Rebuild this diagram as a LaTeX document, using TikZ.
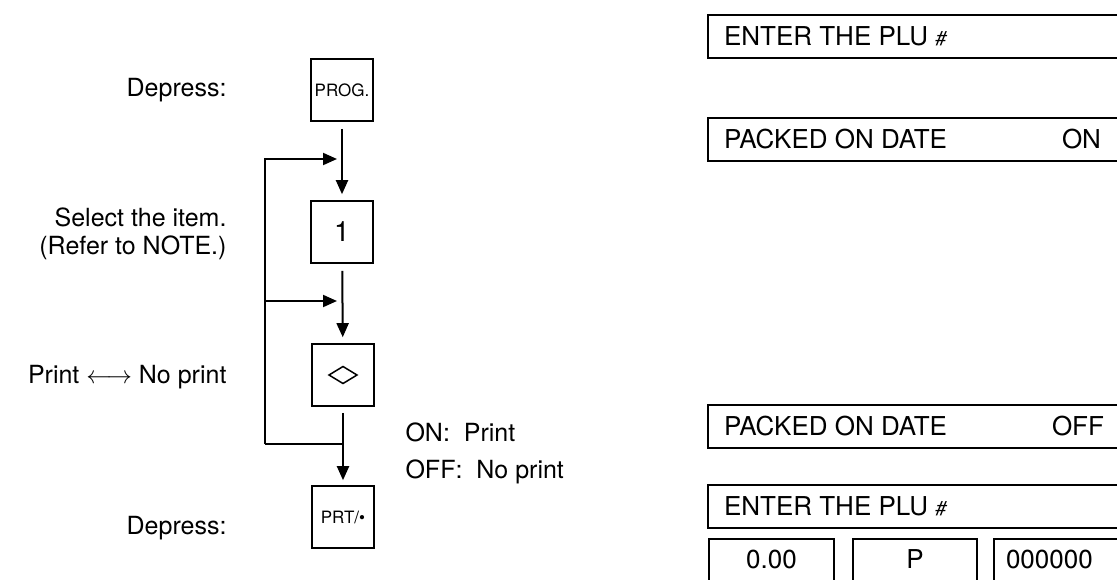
\documentclass[tikz,border=0pt]{standalone}
\usepackage{fontspec}
\setmainfont{TeX Gyre Heros}
\usetikzlibrary{arrows.meta}

\tikzset{
	key/.style={draw, line width=1.6pt, minimum size=62pt, inner sep=0pt},
	keytxt/.style={font=\fontsize{17}{20}\selectfont},
	flow/.style={line width=2pt, -{Triangle[length=14pt,width=12pt]}},
	wire/.style={line width=2pt},
	disp/.style={draw, line width=2pt, anchor=north west, minimum height=43pt, inner xsep=16pt, font=\fontsize{26}{28}\selectfont},
	cell/.style={draw, line width=2pt, anchor=north west, minimum width=125pt, text height=18pt, text depth=40pt, inner ysep=11pt, font=\fontsize{26}{28}\selectfont},
	lbl/.style={anchor=east, align=right}
}
\newcommand{\displine}[1]{\makebox[411pt][l]{#1}}

\begin{document}
\begin{tikzpicture}[x=1pt, y=-1pt, font=\fontsize{25}{28}\selectfont]
	\useasboundingbox (0,0) rectangle (1117,579);
	\clip (0,0) rectangle (1117,579);
	
	% --- keys ---
	\node[key, keytxt] (prog) at (342,90) {PROG.};
	\node[key, font=\fontsize{28}{30}\selectfont] (one) at (342,232) {1};
	\node[key] (dia) at (343,375) {};
	\draw[line width=1.5pt] (dia.center) +(-14,0) -- +(0,-8.5) -- +(14,0) -- +(0,8.5) -- cycle;
	\node[key, keytxt] (prt) at (343,517) {PRT/\textbullet};
	
	% --- left labels ---
	\node[lbl] (dep1) at (230,90) {Depress:};
	\node[lbl] (sel) at (230,234) {Select the item.\\(Refer to NOTE.)};
	\node[lbl] (pn) at (230,377) {Print $\longleftrightarrow$ No print};
	\node[lbl] (dep2) at (230,528) {Depress:};
	\node[anchor=west, align=left, font=\fontsize{25}{37}\selectfont] (onoff) at (402,453) {ON:\ \ Print\\OFF:\ \ No print};
	
	% --- flow ---
	\coordinate (jn) at (343,444);
	\coordinate (lp) at (265,444);
	\coordinate (t1) at (343,159);
	\coordinate (t2) at (343,301);
	\draw[flow, shorten <=7pt, shorten >=6pt] (prog) -- (one);
	\draw[flow, shorten <=7pt, shorten >=6pt] (one) -- (dia);
	\draw[flow, shorten <=6pt, shorten >=5pt] (dia) -- (prt);
	\draw[wire] (jn) -- (lp);
	\draw[flow, shorten >=6pt] (lp) |- (t1);
	\draw[flow, shorten >=6pt] (lp |- t2) -- (t2);
	
	% --- display ---
	\node[disp] (d1) at (707,14) {\displine{ENTER THE PLU {\fontsize{20}{20}\selectfont\itshape\#}}};
	\node[disp] (d2) at (707,117) {\displine{PACKED ON DATE\hfill ON\hspace{34pt}}};
	\node[disp] (d3) at (707,404) {\displine{PACKED ON DATE\hfill OFF\hspace{31pt}}};
	\node[disp] (d4) at (707,484) {\displine{ENTER THE PLU {\fontsize{20}{20}\selectfont\itshape\#}}};
	\node[cell] (c1) at (708,538) {0.00};
	\node[cell, minimum width=124pt] (c2) at (852,538) {P};
	\node[cell, inner xsep=12pt] (c3) at (993,538) {\makebox[126pt][l]{000000}};
\end{tikzpicture}
\end{document}
